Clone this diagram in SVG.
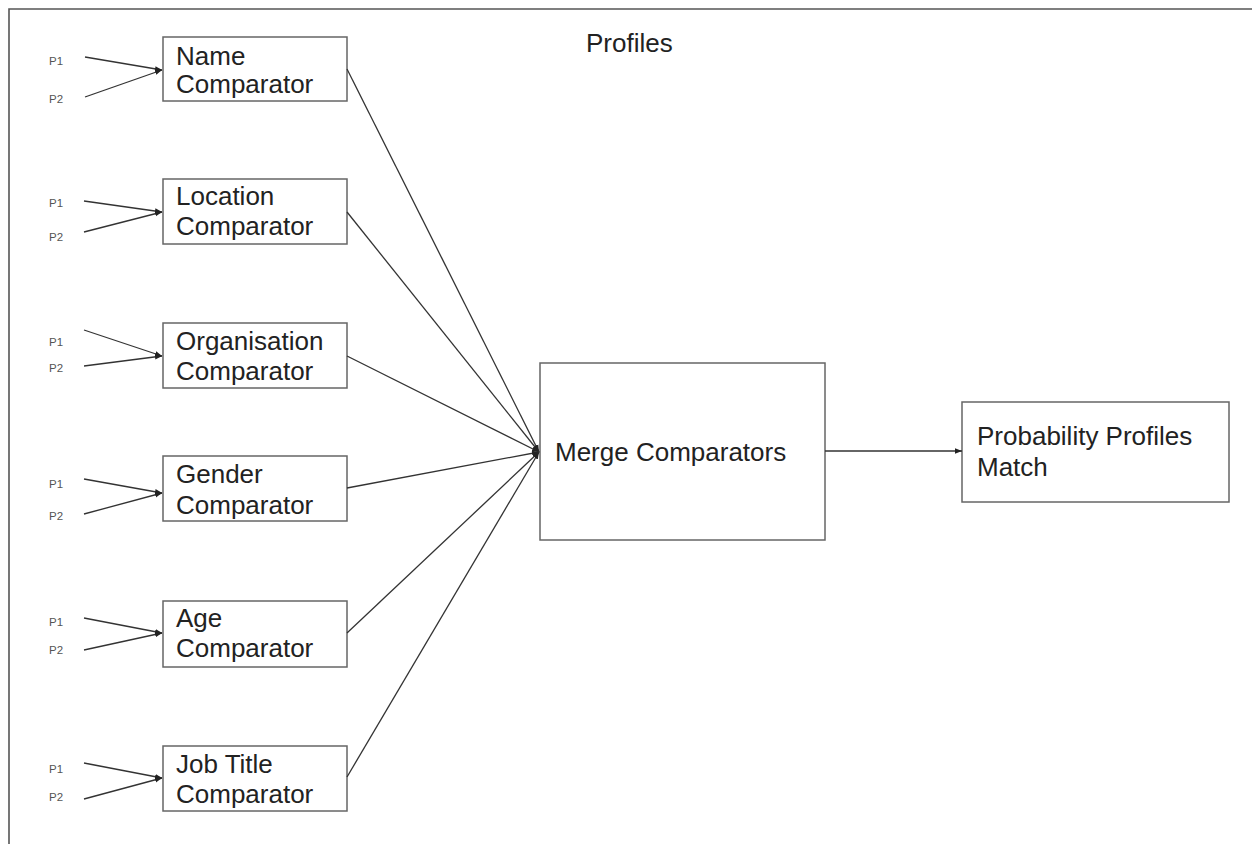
<svg xmlns="http://www.w3.org/2000/svg" width="1252" height="844" viewBox="0 0 1252 844">
<style>
.box{fill:#fff;stroke:#666;stroke-width:1.5}
.t{font-family:"Liberation Sans",Arial,sans-serif;font-size:26px;fill:#222}
.p{font-family:"Liberation Sans",Arial,sans-serif;font-size:11.5px;fill:#555}
.c{fill:none;stroke:#333;stroke-width:1.3}
</style>
<defs>
<marker id="ah" markerUnits="userSpaceOnUse" markerWidth="7" markerHeight="7" viewBox="0 0 7 7" refX="7" refY="3.5" orient="auto">
<path d="M0,0.8 L7,3.5 L0,6.2 Z" fill="#222"/>
</marker>
</defs>
<rect width="1252" height="844" fill="#fff"/>
<path d="M9,844 V9 H1252" fill="none" stroke="#555" stroke-width="1.6"/>
<text class="t" x="586" y="52">Profiles</text>

<g id="name">
<rect class="box" x="163" y="37" width="184" height="64"/>
<text class="t" x="176" y="65">Name</text>
<text class="t" x="176" y="93">Comparator</text>
<text class="p" x="49" y="65">P1</text>
<text class="p" x="49" y="103">P2</text>
</g>
<g id="location">
<rect class="box" x="163" y="179" width="184" height="65"/>
<text class="t" x="176" y="205">Location</text>
<text class="t" x="176" y="235">Comparator</text>
<text class="p" x="49" y="207">P1</text>
<text class="p" x="49" y="241">P2</text>
</g>
<g id="organisation">
<rect class="box" x="163" y="323" width="184" height="65"/>
<text class="t" x="176" y="350">Organisation</text>
<text class="t" x="176" y="380">Comparator</text>
<text class="p" x="49" y="346">P1</text>
<text class="p" x="49" y="372">P2</text>
</g>
<g id="gender">
<rect class="box" x="163" y="456" width="184" height="65"/>
<text class="t" x="176" y="483">Gender</text>
<text class="t" x="176" y="514">Comparator</text>
<text class="p" x="49" y="488">P1</text>
<text class="p" x="49" y="520">P2</text>
</g>
<g id="age">
<rect class="box" x="163" y="601" width="184" height="66"/>
<text class="t" x="176" y="627">Age</text>
<text class="t" x="176" y="657">Comparator</text>
<text class="p" x="49" y="626">P1</text>
<text class="p" x="49" y="654">P2</text>
</g>
<g id="jobtitle">
<rect class="box" x="163" y="746" width="184" height="65"/>
<text class="t" x="176" y="773">Job Title</text>
<text class="t" x="176" y="803">Comparator</text>
<text class="p" x="49" y="773">P1</text>
<text class="p" x="49" y="801">P2</text>
</g>
<g id="merge">
<rect class="box" x="540" y="363" width="285" height="177"/>
<text class="t" x="555" y="461">Merge Comparators</text>
</g>
<g id="probability">
<rect class="box" x="962" y="402" width="267" height="100"/>
<text class="t" x="977" y="445">Probability Profiles</text>
<text class="t" x="977" y="476">Match</text>
</g>

<g id="connectors">
<line class="c" x1="85" y1="57" x2="162" y2="70" marker-end="url(#ah)"/>
<line class="c" x1="85" y1="97" x2="162" y2="70" marker-end="url(#ah)"/>
<line class="c" x1="84" y1="201" x2="162" y2="212" marker-end="url(#ah)"/>
<line class="c" x1="84" y1="232" x2="162" y2="212" marker-end="url(#ah)"/>
<line class="c" x1="84" y1="330" x2="162" y2="356" marker-end="url(#ah)"/>
<line class="c" x1="84" y1="366" x2="162" y2="356" marker-end="url(#ah)"/>
<line class="c" x1="84" y1="479" x2="162" y2="493" marker-end="url(#ah)"/>
<line class="c" x1="84" y1="514" x2="162" y2="493" marker-end="url(#ah)"/>
<line class="c" x1="84" y1="618" x2="162" y2="633" marker-end="url(#ah)"/>
<line class="c" x1="84" y1="650" x2="162" y2="633" marker-end="url(#ah)"/>
<line class="c" x1="84" y1="763" x2="162" y2="778" marker-end="url(#ah)"/>
<line class="c" x1="84" y1="799" x2="162" y2="778" marker-end="url(#ah)"/>

<line class="c" x1="347" y1="69" x2="539" y2="452" marker-end="url(#ah)"/>
<line class="c" x1="347" y1="212" x2="539" y2="452" marker-end="url(#ah)"/>
<line class="c" x1="347" y1="356" x2="539" y2="452" marker-end="url(#ah)"/>
<line class="c" x1="347" y1="488" x2="539" y2="452" marker-end="url(#ah)"/>
<line class="c" x1="347" y1="633" x2="539" y2="452" marker-end="url(#ah)"/>
<line class="c" x1="347" y1="777" x2="539" y2="452" marker-end="url(#ah)"/>

<line class="c" x1="825" y1="451" x2="962" y2="451" marker-end="url(#ah)"/>
</g>
</svg>
